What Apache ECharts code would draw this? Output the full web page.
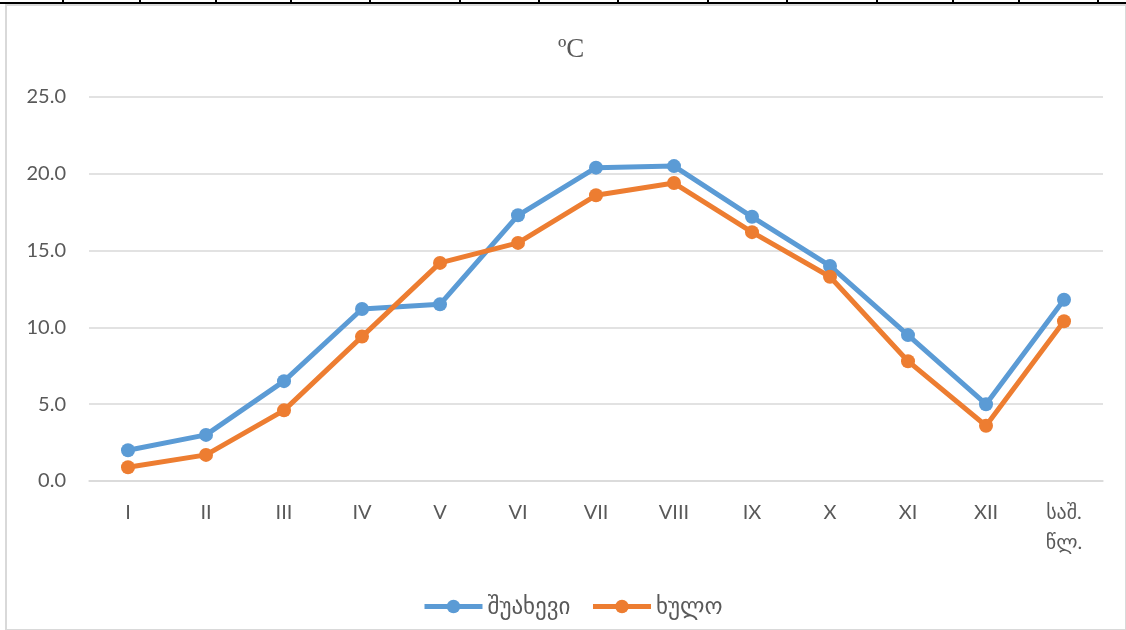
<!DOCTYPE html>
<html>
<head>
<meta charset="utf-8">
<script src="https://cdn.jsdelivr.net/npm/echarts@6/dist/echarts.min.js"></script>
<style>
html,body{margin:0;padding:0;background:#fff;}
#chart{width:1126px;height:630px;}
</style>
</head>
<body>
<div id="chart"></div>
<script>
const categories = ['I','II','III','IV','V','VI','VII','VIII','IX','X','XI','XII','საშ.\nწლ.'];
const shuakhevi = [2.0, 3.0, 6.5, 11.2, 11.5, 17.3, 20.4, 20.5, 17.2, 14.0, 9.5, 5.0, 11.8];
const khulo = [0.9, 1.7, 4.6, 9.4, 14.2, 15.5, 18.6, 19.4, 16.2, 13.3, 7.8, 3.6, 10.4];
const seriesNames = ['შუახევი', 'ხულო'];
const titleText = 'ºC';

const FONT = "Lato, 'DejaVu Sans', sans-serif";
const topTicks = [63, 140, 216, 291, 370, 460, 539, 618, 708, 787, 877, 953, 1019, 1098];

const graphics = [
  {type:'rect', shape:{x:6, y:5, width:1120, height:625}, style:{fill:'none', stroke:'#d9d9d9', lineWidth:2}, silent:true},
  {type:'line', shape:{x1:0, y1:3, x2:1126, y2:3}, style:{stroke:'#000', lineWidth:2}, silent:true}
];
topTicks.forEach(x => graphics.push({type:'line', shape:{x1:x, y1:0, x2:x, y2:3}, style:{stroke:'#000', lineWidth:2}, silent:true}));

const chart = echarts.init(document.getElementById('chart'));
chart.setOption({
  animation: false,
  backgroundColor: '#fff',
  color: ['#5B9BD5', '#ED7D31'],
  graphic: graphics,
  title: {
    text: titleText,
    left: 553,
    top: 31,
    textStyle: {fontFamily: "'Liberation Serif', 'DejaVu Serif', serif", fontSize: 27, fontWeight: 'normal', color: '#595959'}
  },
  legend: {
    data: seriesNames,
    left: 417,
    top: 590,
    itemWidth: 58,
    itemHeight: 17,
    itemGap: 20,
    lineStyle: {width: 5},
    textStyle: {fontFamily: FONT, fontSize: 23, color: '#595959'}
  },
  grid: {left: 89, right: 23, top: 97, bottom: 149, containLabel: false},
  xAxis: {
    type: 'category',
    data: categories,
    boundaryGap: true,
    axisLine: {show: true, lineStyle: {color: '#d9d9d9', width: 1.5}},
    axisTick: {show: false},
    axisLabel: {fontFamily: FONT, fontSize: 20, color: '#595959', margin: 17, lineHeight: 30, interval: 0}
  },
  yAxis: {
    type: 'value',
    min: 0, max: 25, interval: 5,
    axisLine: {show: false},
    axisTick: {show: false},
    splitLine: {lineStyle: {color: '#d9d9d9', width: 1.5}},
    axisLabel: {fontFamily: FONT, fontSize: 20, color: '#595959', margin: 23, formatter: v => v.toFixed(1)}
  },
  series: [
    {name: seriesNames[0], type: 'line', data: shuakhevi, symbol: 'circle', symbolSize: 14, lineStyle: {width: 5}, itemStyle: {color: '#5B9BD5'}},
    {name: seriesNames[1], type: 'line', data: khulo, symbol: 'circle', symbolSize: 14, lineStyle: {width: 5}, itemStyle: {color: '#ED7D31'}}
  ]
});
</script>
</body>
</html>
